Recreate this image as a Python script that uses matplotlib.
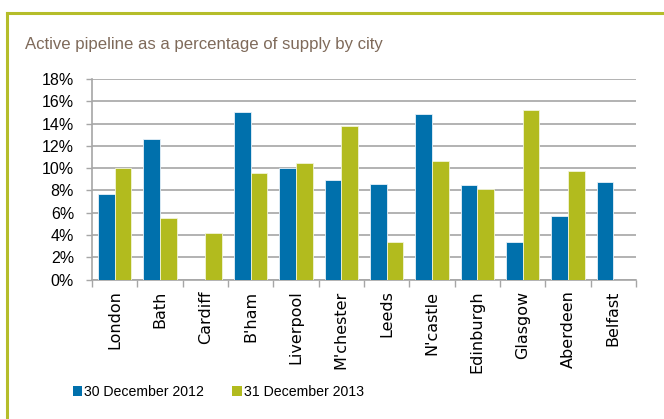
import matplotlib
matplotlib.use("Agg")
import matplotlib.pyplot as plt
import numpy as np
from matplotlib.lines import Line2D
from matplotlib.patches import Patch

cities = ["London", "Bath", "Cardiff", "B'ham", "Liverpool", "M'chester", "Leeds",
          "N'castle", "Edinburgh", "Glasgow", "Aberdeen", "Belfast"]
dec2012 = [7.7, 12.6, 0.0, 15.0, 10.05, 8.95, 8.6, 14.85, 8.45, 3.4, 5.7, 8.75]
dec2013 = [10.0, 5.5, 4.2, 9.6, 10.5, 13.75, 3.4, 10.6, 8.1, 15.25, 9.75, 0.0]
series_names = ["30 December 2012", "31 December 2013"]
yticks = [0, 2, 4, 6, 8, 10, 12, 14, 16, 18]

BLUE = "#0070AC"
GREEN = "#B2BB1E"
FRAME = "#B5BD2A"
GRID = "#A6A6A6"
NARROW = ['Liberation Sans', 'DejaVu Sans']

plt.rcParams['font.family'] = ['DejaVu Sans']

fig = plt.figure(figsize=(6.64, 4.19), dpi=100)
W, H = 664, 419
ax = fig.add_axes([92 / W, 1 - 279.5 / H, (636 - 92) / W, (279.5 - 79) / H])

x = np.arange(len(cities))
bw = 0.365
ax.bar(x - bw / 2, dec2012, width=bw, color=BLUE, edgecolor="#E8F1F8", linewidth=0.6, zorder=3)
ax.bar(x + bw / 2, dec2013, width=bw, color=GREEN, edgecolor="#F2F4D8", linewidth=0.6, zorder=3)

ax.set_xlim(-0.5, len(cities) - 0.5)
ax.set_ylim(0, 18)
ax.set_yticks(yticks)
ax.set_yticklabels([f"{v}%" for v in yticks], fontsize=11.5, family=NARROW)
ax.yaxis.grid(True, color=GRID, linewidth=1.2, zorder=0)
ax.set_axisbelow(True)

ax.set_xticks(x)
ax.set_xticklabels(cities, rotation=90, fontsize=11.5)
ax.set_xticks(np.arange(len(cities) + 1) - 0.5, minor=True)
ax.tick_params(axis='x', which='major', length=0, pad=8)
ax.tick_params(axis='x', which='minor', length=5, color=GRID, width=1)
ax.tick_params(axis='y', length=4.3, color=GRID, width=1, pad=8.6)

for s in ['top', 'right']:
    ax.spines[s].set_visible(False)
for s in ['left', 'bottom']:
    ax.spines[s].set_color(GRID)
    ax.spines[s].set_linewidth(1.2)

handles = [Patch(facecolor=BLUE, edgecolor='none'), Patch(facecolor=GREEN, edgecolor='none')]
fig.legend(handles, series_names, loc='center left', bbox_to_anchor=(60 / W, 1 - 392 / H),
           ncol=2, frameon=False, prop={'family': NARROW, 'size': 10.2},
           handlelength=0.65, handleheight=0.65, handletextpad=0.15, columnspacing=2.0)

fig.text(25 / W, 1 - 45 / H, "Active pipeline as a percentage of supply by city",
         fontsize=12.1, color="#7F6A5A", va='center', ha='left', family=NARROW)

# frame lines
fig.add_artist(Line2D([7 / W, 7 / W], [0, 1 - 13 / H], transform=fig.transFigure,
                      color=FRAME, linewidth=2.2))
fig.add_artist(Line2D([7 / W, 1], [1 - 13 / H, 1 - 13 / H], transform=fig.transFigure,
                      color=FRAME, linewidth=2.2))

fig.savefig("out.png", dpi=100)
